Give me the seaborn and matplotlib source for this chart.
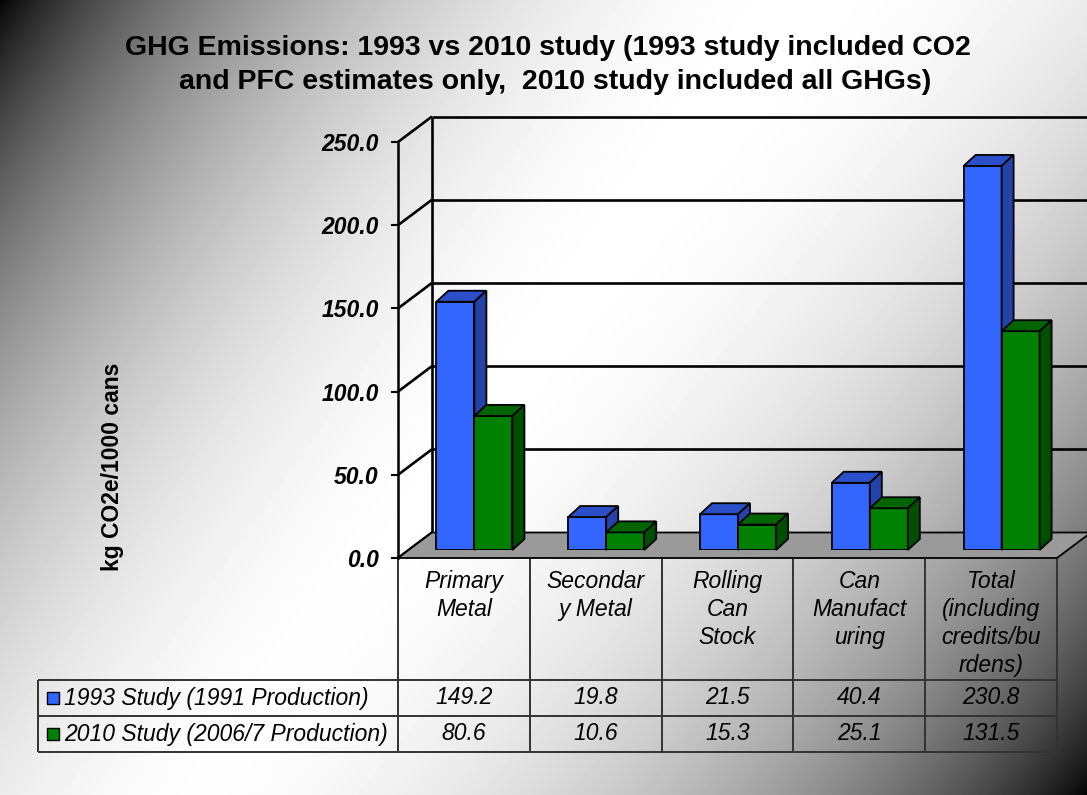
import numpy as np
import pandas as pd
import matplotlib
matplotlib.use("Agg")
import matplotlib.pyplot as plt
import seaborn as sns
from matplotlib.patches import Polygon, Rectangle
from matplotlib.colors import to_rgb

# ---- data -------------------------------------------------------------
categories = ["Primary\nMetal", "Secondar\ny Metal", "Rolling\nCan\nStock",
              "Can\nManufact\nuring", "Total\n(including\ncredits/bu\nrdens)"]
series_names = ["1993 Study (1991 Production)", "2010 Study (2006/7 Production)"]
study_1993 = [149.2, 19.8, 21.5, 40.4, 230.8]
study_2010 = [80.6, 10.6, 15.3, 25.1, 131.5]
y_ticks = [0, 50, 100, 150, 200, 250]
title_lines = ["GHG Emissions: 1993 vs 2010 study (1993 study included CO2",
               "and PFC estimates only,  2010 study included all GHGs)"]
y_label = "kg CO2e/1000 cans"

front_colors = ["#3366FF", "#008000"]
side_colors = ["#2343A8", "#004F00"]
top_colors = ["#2B4FC9", "#006400"]

df = pd.DataFrame({
    "category": categories * 2,
    "study": [series_names[0]] * len(categories) + [series_names[1]] * len(categories),
    "value": study_1993 + study_2010,
})

# ---- figure -----------------------------------------------------------
sns.set_theme(style="white")
plt.rcParams["font.family"] = ["Liberation Sans", "DejaVu Sans"]
plt.rcParams["text.color"] = "black"
plt.rcParams["ytick.color"] = "black"
plt.rcParams["xtick.color"] = "black"
plt.rcParams["axes.labelcolor"] = "black"

W, H = 1087, 795
fig = plt.figure(figsize=(W / 100, H / 100), dpi=100)

# background: dark corners top-left and bottom-right, white across the middle
def ramp(s):
    s = np.clip(s, 0, 1)
    return (1 - (1 - s) ** 2) ** 0.8

bg = fig.add_axes([0, 0, 1, 1], zorder=0)
xx, yy = np.meshgrid(np.arange(W) + 0.5, np.arange(H) + 0.5)
shade = ramp(xx / 810 + yy / 1150) * ramp((W - xx) / 950 + (H - yy) / 1150)
bg.imshow(shade, cmap="gray", vmin=0, vmax=1, extent=(0, W, H, 0),
          aspect="auto", interpolation="bilinear")
bg.set_xlim(0, W)
bg.set_ylim(H, 0)
bg.axis("off")

# bar plane (middle depth of the 3-D box)
x0_px, base_px, w_px, h_px = 408.5, 550, 659, 416
ax = fig.add_axes([x0_px / W, (H - base_px) / H, w_px / W, h_px / H], zorder=2)
sns.barplot(data=df, x="category", y="value", hue="study", palette=front_colors,
            saturation=1, width=0.577, edgecolor="black", linewidth=1.3,
            legend=False, errorbar=None, ax=ax)
ax.set_xlim(-0.5, 4.5)
ax.set_ylim(0, 250)
ax.set_axis_off()

sx = w_px / 5.0      # pixels per category
sy = h_px / 250.0    # pixels per unit
fx, fy = -10.5 / sx, -8 / sy      # front plane offset
bx, by = 23.5 / sx, 17.5 / sy     # back plane offset
dx, dy = 12 / sx, 11 / sy         # bar depth

line_kw = dict(color="black", lw=1.9, clip_on=False, solid_capstyle="butt")

# back wall gridlines and left wall
for t in y_ticks:
    ax.plot([-0.5 + bx, 4.5 + bx + 0.05], [t + by, t + by], zorder=1, **line_kw)
    ax.plot([-0.5 + fx, -0.5 + bx], [t + fy, t + by], zorder=1, **line_kw)
ax.plot([-0.5 + bx, -0.5 + bx], [by, 250 + by], zorder=1, **line_kw)

# floor
floor = Polygon([(-0.5 + fx, fy), (4.5 + fx, fy), (4.5 + bx, by), (-0.5 + bx, by)],
                closed=True, facecolor="#9A9A9A", edgecolor="black", lw=1.3,
                zorder=1.5, clip_on=False)
ax.add_patch(floor)

# 3-D faces for every bar
for p in ax.patches[:]:
    if p is floor:
        continue
    fc = to_rgb(p.get_facecolor())
    k = int(np.argmin([np.sum((np.array(fc) - np.array(to_rgb(c))) ** 2)
                       for c in front_colors]))
    x0, w, h = p.get_x(), p.get_width(), p.get_height()
    z = 3 + 0.2 * k
    p.set_zorder(z)
    top = Polygon([(x0, h), (x0 + w, h), (x0 + w + dx, h + dy), (x0 + dx, h + dy)],
                  closed=True, facecolor=top_colors[k], edgecolor="black",
                  lw=1.3, zorder=z + 0.1, clip_on=False)
    side = Polygon([(x0 + w, 0), (x0 + w + dx, dy), (x0 + w + dx, h + dy), (x0 + w, h)],
                   closed=True, facecolor=side_colors[k], edgecolor="black",
                   lw=1.3, zorder=z + 0.1, clip_on=False)
    ax.add_patch(top)
    ax.add_patch(side)

# value axis on the front edge of the box
axf = fig.add_axes([(x0_px - 10.5) / W, (H - base_px - 8) / H, w_px / W, h_px / H],
                   zorder=3)
axf.set_ylim(0, 250)
axf.set_xlim(0, 1)
axf.patch.set_alpha(0)
for s in ["top", "right", "bottom"]:
    axf.spines[s].set_visible(False)
axf.spines["left"].set_color("black")
axf.spines["left"].set_linewidth(1.8)
axf.set_xticks([])
axf.set_yticks(y_ticks)
axf.set_yticklabels([f"{t:.1f}" for t in y_ticks], fontsize=16.5,
                    fontweight="bold", fontstyle="italic", color="black")
axf.tick_params(axis="y", direction="out", length=5, width=1.5, color="black",
                pad=9, left=True)

# ---- data table -------------------------------------------------------
tx0, tx1 = 398, 1057
col_w = (tx1 - tx0) / len(categories)
hdr_top, hdr_bot, row_h = 558, 680, 36
lab_x0 = 38
grid_col = "#333333"
tl = dict(color=grid_col, lw=1.4, solid_capstyle="butt")
for i in range(len(categories) + 1):
    xc = tx0 + i * col_w
    bg.plot([xc, xc], [hdr_top, hdr_bot + 2 * row_h], **tl)
for j in range(3):
    yr = hdr_bot + j * row_h
    bg.plot([lab_x0, tx1], [yr, yr], **tl)
bg.plot([lab_x0, lab_x0], [hdr_bot, hdr_bot + 2 * row_h], **tl)

txt_kw = dict(fontsize=16.5, fontstyle="italic", color="black")
for i, cat in enumerate(categories):
    cx = tx0 + (i + 0.5) * col_w
    bg.text(cx, 570, cat, ha="center", va="top", linespacing=1.27, **txt_kw)

for r, (name, vals) in enumerate(zip(series_names, [study_1993, study_2010])):
    cy = hdr_bot + (r + 0.5) * row_h
    bg.add_patch(Rectangle((47, cy - 6), 12, 12, facecolor=front_colors[r],
                           edgecolor="black", lw=1.0))
    bg.text(64, cy, name, ha="left", va="center", **txt_kw)
    for i, val in enumerate(vals):
        cx = tx0 + (i + 0.5) * col_w
        bg.text(cx, cy, f"{val:.1f}", ha="center", va="center", **txt_kw)

# ---- title and axis label ---------------------------------------------
fig.text(548 / W, 1 - 55 / H, title_lines[0], ha="center", va="baseline",
         fontsize=20.5, fontweight="bold")
fig.text(555 / W, 1 - 89 / H, title_lines[1], ha="center", va="baseline",
         fontsize=20.5, fontweight="bold")
fig.text(112 / W, 1 - 467 / H, y_label, rotation=90, ha="center", va="center",
         fontsize=16.5, fontweight="bold")

fig.savefig("out.png", dpi=100)
